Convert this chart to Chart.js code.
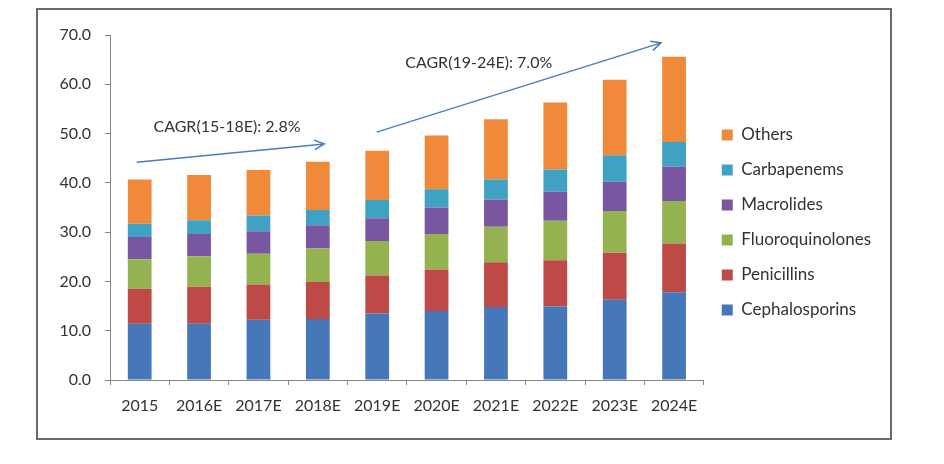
<!DOCTYPE html>
<html>
<head>
<meta charset="utf-8">
<script src="https://cdn.jsdelivr.net/npm/chart.js@4.4.1/dist/chart.umd.min.js"></script>
<style>
  html, body { margin: 0; padding: 0; background: #fff; }
  #wrap { position: relative; width: 944px; height: 464px; }
  #frame { position: absolute; left: 36px; top: 8px; width: 852px; height: 428px; border: 2px solid #6b6b6b; }
  #myChart { position: absolute; left: 0; top: 0; }
</style>
</head>
<body>
<div id="wrap">
  <div id="frame"></div>
  <canvas id="myChart" width="944" height="464"></canvas>
</div>
<script>
// data
var years = ['2015', '2016E', '2017E', '2018E', '2019E', '2020E', '2021E', '2022E', '2023E', '2024E'];
var cephalosporins = [11.4, 11.4, 12.2, 12.4, 13.5, 14.0, 14.8, 14.9, 16.3, 17.8];
var penicillins = [7.1, 7.5, 7.2, 7.5, 7.7, 8.4, 9.1, 9.4, 9.5, 9.9];
var fluoroquinolones = [6.0, 6.2, 6.2, 6.8, 7.0, 7.2, 7.2, 8.0, 8.5, 8.6];
var macrolides = [4.5, 4.5, 4.6, 4.7, 4.6, 5.4, 5.5, 5.9, 5.9, 7.0];
var carbapenems = [2.7, 2.8, 3.2, 3.1, 3.7, 3.7, 4.1, 4.5, 5.4, 5.0];
var others = [9.0, 9.2, 9.2, 9.8, 10.0, 10.9, 12.2, 13.6, 15.3, 17.3];
var yTicks = [0, 10, 20, 30, 40, 50, 60, 70];

// CAGR arrows, in category index / value units
var cagrLabels = ['CAGR(15-18E): 2.8%', 'CAGR(19-24E): 7.0%'];
var arrowFrom = [[-0.05, 44.2], [3.99, 50.3]];
var arrowTo = [[3.11, 47.9], [8.78, 68.4]];
var labelAt = [[1.47, 51.3], [5.71, 64.3]];

var FONT = 'Lato, "Open Sans", sans-serif';
var TEXT = '#333333';

var cagrPlugin = {
  id: 'cagr',
  afterLayout: function (chart) {
    // nudge the legend up a little, like the original
    chart.legend.top -= 5;
    chart.legend.bottom -= 5;
  },
  afterDatasetsDraw: function (chart) {
    var ctx = chart.ctx;
    var xs = chart.scales.x, ys = chart.scales.y;
    ctx.save();
    for (var i = 0; i < cagrLabels.length; i++) {
      var x1 = xs.getPixelForValue(arrowFrom[i][0]), y1 = ys.getPixelForValue(arrowFrom[i][1]);
      var x2 = xs.getPixelForValue(arrowTo[i][0]), y2 = ys.getPixelForValue(arrowTo[i][1]);
      ctx.strokeStyle = '#4a7ebb';
      ctx.lineWidth = 1.5;
      ctx.beginPath();
      ctx.moveTo(x1, y1);
      ctx.lineTo(x2, y2);
      // open arrow head
      var a = Math.atan2(y2 - y1, x2 - x1);
      ctx.moveTo(x2 - 11 * Math.cos(a - 0.45), y2 - 11 * Math.sin(a - 0.45));
      ctx.lineTo(x2, y2);
      ctx.lineTo(x2 - 11 * Math.cos(a + 0.45), y2 - 11 * Math.sin(a + 0.45));
      ctx.stroke();

      ctx.fillStyle = TEXT;
      ctx.font = '16px ' + FONT;
      ctx.textAlign = 'center';
      ctx.textBaseline = 'middle';
      ctx.fillText(cagrLabels[i], xs.getPixelForValue(labelAt[i][0]), ys.getPixelForValue(labelAt[i][1]));
    }
    ctx.restore();
  }
};

function ds(label, data, color) {
  return {
    label: label,
    data: data,
    backgroundColor: color,
    borderWidth: 0,
    categoryPercentage: 0.8,
    barPercentage: 0.5
  };
}

var config = {
  type: 'bar',
  data: {
    labels: years,
    datasets: [
      ds('Cephalosporins', cephalosporins, '#4677b8'),
      ds('Penicillins', penicillins, '#be4a47'),
      ds('Fluoroquinolones', fluoroquinolones, '#94b350'),
      ds('Macrolides', macrolides, '#7857a0'),
      ds('Carbapenems', carbapenems, '#3fa2c2'),
      ds('Others', others, '#f08a3a')
    ]
  },
  options: {
    responsive: false,
    animation: false,
    layout: { padding: { left: 0, right: 63, top: 35, bottom: 44 } },
    plugins: {
      legend: {
        position: 'right',
        reverse: true,
        labels: {
          boxWidth: 11,
          boxHeight: 11,
          padding: 18,
          color: TEXT,
          font: { family: FONT, size: 17 }
        }
      },
      tooltip: { enabled: false }
    },
    scales: {
      x: {
        stacked: true,
        afterFit: function (scale) { scale.height = 40; },
        grid: { offset: true, drawOnChartArea: false, tickLength: 5, color: '#868686' },
        border: { color: '#868686', width: 1 },
        ticks: { color: TEXT, padding: 11, font: { family: FONT, size: 16 } }
      },
      y: {
        stacked: true,
        min: 0,
        max: 70,
        afterFit: function (scale) { scale.width = 110; },
        afterBuildTicks: function (scale) {
          scale.ticks = yTicks.map(function (v) { return { value: v }; });
        },
        grid: { drawOnChartArea: false, tickLength: 5, color: '#868686' },
        border: { color: '#868686', width: 1 },
        ticks: {
          color: TEXT,
          padding: 14,
          font: { family: FONT, size: 16 },
          callback: function (v) { return Number(v).toFixed(1); }
        }
      }
    }
  },
  plugins: [cagrPlugin]
};

// Create the chart
var myChart = new Chart(document.getElementById('myChart'), config);
</script>
</body>
</html>
